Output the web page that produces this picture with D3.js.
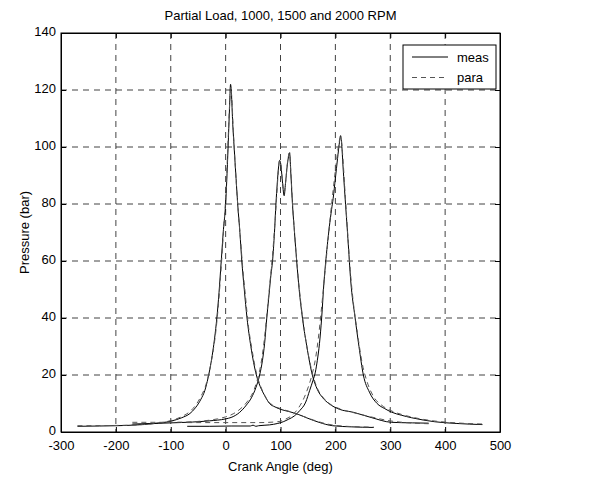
<!DOCTYPE html>
<html>
<head>
<meta charset="utf-8">
<script src="https://cdn.jsdelivr.net/npm/d3@7"></script>
<style>
  body { margin: 0; background: #fff; }
  svg { display: block; }
  text { font-family: Arial, "Liberation Sans", sans-serif; font-size: 13px; fill: #000; }
</style>
</head>
<body>
<svg id="chart"></svg>
<script>
// [crank angle (deg), pressure (bar)]
const measA = [[-270,2.0],[-230,2.1],[-200,2.2],[-160,2.5],[-130,3.0],[-100,3.8],[-80,5.0],[-65,6.5],[-55,8.5],[-45,11.5],[-38,14.5],[-32,19],[-26,25],[-20,33],[-16,40],[-12,49],[-8,60],[-4,71],[0,80],[2,88],[4.5,100],[7,113],[9,122],[10.5,119],[13,108],[15.5,100],[19,89],[22,80],[26,70],[29.5,60],[34,50],[39,40],[46,30],[56,20],[63,16],[72,12.5],[80,10],[90,8.8],[101,7.9],[115,7.2],[132,6.2],[150,4.8],[170,3.4],[195,2.2],[230,1.8],[270,1.6]];
const paraA = [[-270,2.2],[-200,2.3],[-150,2.6],[-120,3.2],[-100,4.0],[-80,5.4],[-65,7.2],[-55,9.3],[-45,12.5],[-36,16.5],[-30,21],[-24,27],[-18,35],[-13,45],[-8,58],[-4,70],[0,82],[4,100],[7,114],[9,121],[11,118],[14,106],[18,92],[22,80],[27,68],[31,58],[36,48],[41,38],[48,29],[57,20],[65,15.5],[75,11.5],[85,9.5],[100,8.2],[120,7.0],[140,5.6],[160,4.2],[185,2.8],[220,2.0],[270,1.7]];

const measB = [[-170,2.8],[-130,3.0],[-100,3.2],[-60,3.5],[-30,3.9],[0,4.6],[10,5.1],[25,6.8],[38,9.5],[47,12],[55,15.5],[62,20],[67,25],[71,31],[75,40],[79,48],[82.5,55],[85.5,60],[89,70],[91.7,80],[94,87],[96.5,93],[98.4,95.3],[100.5,94],[103,89],[106.7,82.9],[109,87],[112,93],[114.5,96.5],[116.6,98],[118.5,92],[121.8,80],[125.5,70],[129.5,60],[134,50],[140,40],[148,30],[158,20],[167,15],[177,12],[188,10],[207,8],[233,6.9],[265,5.1],[302,3.4],[340,3.2],[370,3.1]];
const paraB = [[-170,3.4],[-120,3.4],[-70,3.5],[-40,3.9],[-15,4.6],[0,5.3],[15,6.5],[28,8.3],[40,10.8],[50,14],[58,18.5],[64,23.5],[69,30],[73,37],[77,45],[81,53],[85,61],[89,71],[92.5,81],[95.5,90],[98,95],[100.5,94],[103.5,88],[106.7,84],[109.5,88],[113,95],[116.5,98],[119,91],[122,80],[126,69],[130,59],[135,49],[141,39],[149,29],[159,20],[168,15],[179,11.8],[192,9.6],[210,8.0],[235,6.7],[265,5.3],[300,3.9],[335,3.2],[370,2.9]];

const measC = [[-70,2.0],[-30,2.0],[10,2.1],[45,2.1],[50,2.4],[55,2.0],[60,2.2],[80,2.5],[95,3.0],[105,3.6],[115,4.5],[125,5.6],[135,7.5],[146,10.5],[153,14.5],[159,18],[163.5,21],[167,25],[171,31],[175,40],[179,52],[183,61],[189,72],[193,78],[196,82],[200,89],[204,96],[207,101],[209.5,104],[211.5,101],[214,93],[218.5,80],[222.8,68],[228,53],[236,40],[243,30],[251,20],[262,14],[276,10],[290,8.2],[302,7],[320,5.9],[339,5],[360,4.2],[381,3.6],[420,3.0],[468,2.6]];
const paraC = [[-70,3.3],[0,3.3],[60,3.3],[95,3.6],[110,4.6],[122,6],[133,8.5],[143,12],[151,16],[158,20.5],[164,26],[169,33],[174,42],[179,52],[184,62],[190,74],[196,85],[202,95],[207,102],[210,103.5],[213,98],[217,86],[222,71],[227,57],[233,45],[240,35],[249,24],[258,17.5],[270,12.3],[285,9.3],[300,7.6],[320,6.2],[345,5.0],[375,4.0],[420,3.2],[468,2.8]];

const xTicks = [-300,-200,-100,0,100,200,300,400,500];
const yTicks = [0,20,40,60,80,100,120,140];
const legendNames = ["meas", "para"];

const W = 602, H = 477;
const mLeft = 61, mTop = 33, mRight = 500, mBottom = 432;

const svg = d3.select("#chart").attr("width", W).attr("height", H);

const x = d3.scaleLinear().domain([-300, 500]).range([mLeft, mRight]);
const y = d3.scaleLinear().domain([0, 140]).range([mBottom, mTop]);

svg.append("defs").append("clipPath").attr("id", "plotclip")
  .append("rect").attr("x", mLeft).attr("y", mTop)
  .attr("width", mRight - mLeft).attr("height", mBottom - mTop);

// grid
const grid = svg.append("g").attr("stroke", "#111").attr("stroke-width", 0.8)
  .attr("stroke-dasharray", "6,5");
grid.selectAll(".gx").data(xTicks.slice(1, -1)).enter().append("line")
  .attr("x1", d => x(d)).attr("x2", d => x(d)).attr("y1", mTop).attr("y2", mBottom);
grid.selectAll(".gy").data(yTicks.slice(1, -1)).enter().append("line")
  .attr("x1", mLeft).attr("x2", mRight).attr("y1", d => y(d)).attr("y2", d => y(d));

// curves
const line = d3.line().x(d => x(d[0])).y(d => y(d[1])).curve(d3.curveMonotoneX);
const plot = svg.append("g").attr("clip-path", "url(#plotclip)").attr("fill", "none");

[measA, measB, measC].forEach(s => {
  plot.append("path").datum(s).attr("stroke", "#000").attr("stroke-width", 1).attr("d", line);
});
[paraA, paraB, paraC].forEach(s => {
  plot.append("path").datum(s).attr("stroke", "#555").attr("stroke-width", 1)
    .attr("stroke-dasharray", "5,4").attr("d", line);
});

// axes, MATLAB style: box with inward ticks on all sides
svg.append("g").attr("transform", `translate(0,${mBottom})`)
  .call(d3.axisBottom(x).tickValues(xTicks).tickFormat(d => String(d))
    .tickSizeInner(-5).tickSizeOuter(0).tickPadding(9))
  .call(g => g.selectAll("text").style("font-size", "13px"));
svg.append("g").attr("transform", `translate(${mLeft},0)`)
  .call(d3.axisLeft(y).tickValues(yTicks).tickFormat(d => String(d))
    .tickSizeInner(-5).tickSizeOuter(0).tickPadding(5))
  .call(g => g.selectAll("text").style("font-size", "13px").attr("dy", "0.22em"));
svg.append("g").attr("transform", `translate(0,${mTop})`)
  .call(d3.axisTop(x).tickValues(xTicks).tickSizeInner(-5).tickSizeOuter(0).tickFormat(""));
svg.append("g").attr("transform", `translate(${mRight},0)`)
  .call(d3.axisRight(y).tickValues(yTicks).tickSizeInner(-5).tickSizeOuter(0).tickFormat(""));
svg.selectAll(".domain").attr("stroke", "#000");
svg.selectAll(".tick line").attr("stroke", "#000");

svg.append("rect").attr("x", mLeft).attr("y", mTop)
  .attr("width", mRight - mLeft).attr("height", mBottom - mTop)
  .attr("fill", "none").attr("stroke", "#000");

// labels
svg.append("text").attr("x", (mLeft + mRight) / 2).attr("y", 20)
  .attr("text-anchor", "middle").text("Partial Load, 1000, 1500 and 2000 RPM");
svg.append("text").attr("x", (mLeft + mRight) / 2).attr("y", 471)
  .attr("text-anchor", "middle").text("Crank Angle (deg)");
svg.append("text").attr("transform", `translate(29,${(mTop + mBottom) / 2}) rotate(-90)`)
  .attr("text-anchor", "middle").text("Pressure (bar)");

// legend
const lg = svg.append("g").attr("transform", "translate(403,45)");
lg.append("rect").attr("width", 93).attr("height", 44)
  .attr("fill", "#fff").attr("stroke", "#000");
const rows = lg.selectAll(".row").data(legendNames).enter().append("g")
  .attr("transform", (d, i) => `translate(0,${12 + i * 20.5})`);
rows.append("line").attr("x1", 9).attr("x2", 45).attr("y1", 0).attr("y2", 0)
  .attr("stroke", (d, i) => i ? "#555" : "#000")
  .attr("stroke-dasharray", (d, i) => i ? "5,4" : null);
rows.append("text").attr("x", 54).attr("y", 4.5).text(d => d);
</script>
</body>
</html>
